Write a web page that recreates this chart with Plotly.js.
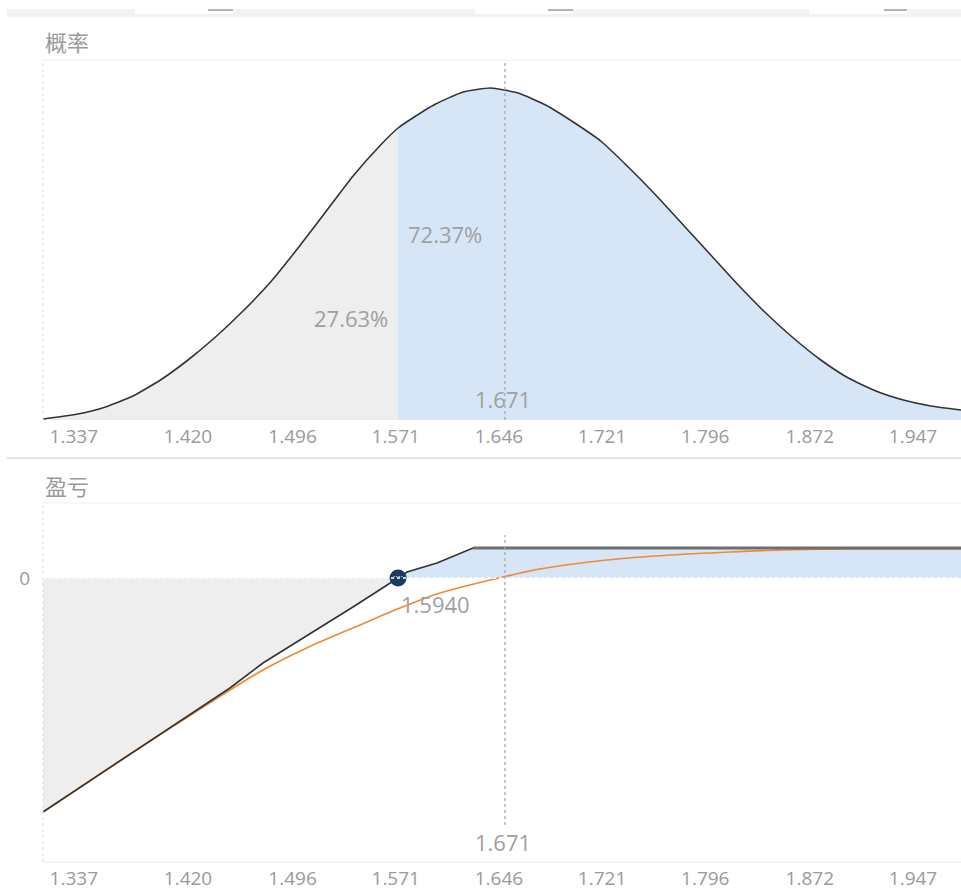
<!DOCTYPE html>
<html>
<head>
<meta charset="utf-8">
<script src="https://cdn.plot.ly/plotly-3.0.1.min.js"></script>
<style>
  html, body { margin: 0; padding: 0; background: #ffffff; }
  #chart { width: 961px; height: 895px; }
</style>
</head>
<body>
<div id="chart"></div>
<script>
// ---- data ----
const tickVals = [1.337, 1.420, 1.496, 1.571, 1.646, 1.721, 1.796, 1.872, 1.947];
const tickLabels = ["1.337", "1.420", "1.496", "1.571", "1.646", "1.721", "1.796", "1.872", "1.947"];
const xRange = [1.3146, 1.9819];

// probability density (top panel)
const densX = [1.3146, 1.34, 1.36, 1.38, 1.40, 1.42, 1.44, 1.46, 1.48, 1.50, 1.52, 1.54, 1.56, 1.5727,
               1.58, 1.60, 1.62, 1.64, 1.66, 1.68, 1.70, 1.72, 1.74, 1.76, 1.78, 1.80, 1.82, 1.84,
               1.86, 1.88, 1.90, 1.92, 1.94, 1.96, 1.9819];
const densY = [0.01, 0.06, 0.13, 0.24, 0.40, 0.60, 0.83, 1.09, 1.38, 1.72, 2.08, 2.44, 2.75, 2.92,
               2.99, 3.16, 3.28, 3.32, 3.27, 3.15, 2.98, 2.79, 2.53, 2.25, 1.95, 1.65, 1.35, 1.07,
               0.82, 0.60, 0.42, 0.29, 0.20, 0.14, 0.10];

// profit / loss at expiry (bottom panel, black)
const pnlX = [1.3146, 1.3778, 1.4505, 1.4745, 1.5109, 1.5399, 1.5727, 1.5792, 1.6010, 1.6272, 1.9819];
const pnlY = [-2.34, -1.76, -1.10, -0.85, -0.54, -0.29, 0, 0.06, 0.15, 0.30, 0.30];

// theoretical profit / loss now (bottom panel, orange)
const theoX = [1.3146, 1.3778, 1.4300, 1.4745, 1.5109, 1.5450, 1.5741, 1.6032, 1.6490, 1.6759,
               1.7246, 1.7704, 1.8140, 1.8525, 1.9012, 1.9819];
const theoY = [-2.34, -1.76, -1.30, -0.92, -0.67, -0.47, -0.30, -0.15, 0.01, 0.09,
               0.18, 0.23, 0.26, 0.28, 0.29, 0.29];

const breakEvenPos = 1.5727;       // where the break-even point sits on the axis
const breakEvenLabel = "1.5940";
const meanPos = 1.6504;            // where the dotted mean line sits on the axis
const meanLabel = "1.671";
const probBelow = "27.63%";
const probAbove = "72.37%";
const title1 = "概率";
const title2 = "盈亏";

// ---- build traces ----
const GRAY = "#eeeeee", BLUE = "#d6e6f7";
const iD = densX.indexOf(breakEvenPos);
const iP = pnlX.indexOf(breakEvenPos);
const maxP = Math.max(...pnlY);
const iCap = pnlY.indexOf(maxP);

const traces = [
  {x: densX.slice(0, iD + 1), y: densY.slice(0, iD + 1), xaxis: "x", yaxis: "y", mode: "lines",
   fill: "tozeroy", fillcolor: GRAY, line: {width: 0, shape: "spline", smoothing: 0.5}, hoverinfo: "skip"},
  {x: densX.slice(iD), y: densY.slice(iD), xaxis: "x", yaxis: "y", mode: "lines",
   fill: "tozeroy", fillcolor: BLUE, line: {width: 0, shape: "spline", smoothing: 0.5}, hoverinfo: "skip"},
  {x: densX, y: densY, xaxis: "x", yaxis: "y", mode: "lines",
   line: {color: "#333333", width: 1.6, shape: "spline", smoothing: 0.5}},

  {x: pnlX.slice(0, iP + 1), y: pnlY.slice(0, iP + 1), xaxis: "x2", yaxis: "y2", mode: "lines",
   fill: "tozeroy", fillcolor: GRAY, line: {width: 0}, hoverinfo: "skip"},
  {x: pnlX.slice(iP), y: pnlY.slice(iP), xaxis: "x2", yaxis: "y2", mode: "lines",
   fill: "tozeroy", fillcolor: BLUE, line: {width: 0}, hoverinfo: "skip"},
  {x: theoX, y: theoY, xaxis: "x2", yaxis: "y2", mode: "lines",
   line: {color: "#f08a32", width: 1.6, shape: "spline", smoothing: 0.8}},
  {x: pnlX, y: pnlY, xaxis: "x2", yaxis: "y2", mode: "lines",
   line: {color: "#333333", width: 1.6}},
  {x: pnlX.slice(iCap), y: pnlY.slice(iCap), xaxis: "x2", yaxis: "y2", mode: "lines",
   line: {color: "#6f6f6f", width: 3}},
  {x: [breakEvenPos], y: [0], xaxis: "x2", yaxis: "y2", mode: "markers+text",
   text: ["····"], textposition: "middle center",
   textfont: {color: "#ffffff", size: 8, family: "DejaVu Sans"},
   marker: {size: 17, color: "#1b3a5e"}}
];

// ---- layout ----
const px2x = (p) => (p - 43) / 918;
const py2y = (p) => 1 - (p - 60) / 802;

const axisFont = {family: "Open Sans, Noto Sans, sans-serif", size: 19, color: "#9a9a9a"};
const annFont = {family: "Open Sans, Noto Sans, sans-serif", size: 22, color: "#a0a0a0"};
const titleFont = {family: "Noto Sans CJK SC, sans-serif", size: 22, color: "#9a9a9a"};

const xCommon = {range: xRange, tickvals: tickVals, ticktext: tickLabels, tickfont: axisFont,
  showgrid: false, zeroline: false, showline: false, ticks: "", fixedrange: true,
  ticklabelstandoff: 3};

const layout = {
  width: 961, height: 895,
  margin: {l: 43, r: 0, t: 60, b: 33},
  paper_bgcolor: "#ffffff", plot_bgcolor: "rgba(0,0,0,0)",
  showlegend: false, hovermode: false,
  xaxis: Object.assign({}, xCommon, {anchor: "y"}),
  xaxis2: Object.assign({}, xCommon, {anchor: "y2"}),
  yaxis: {domain: [(862 - 420) / 802, 1], range: [0, 3.6], showticklabels: false,
    showgrid: false, zeroline: false, showline: false, ticks: ""},
  yaxis2: {domain: [0, (862 - 503) / 802], range: [-2.84, 0.75], tickvals: [0], ticktext: ["0"],
    tickfont: axisFont, showgrid: false, zeroline: false, showline: false, ticks: "",
    ticklabelstandoff: 12},
  shapes: [
    // top toolbar strip
    {type: "rect", xref: "paper", yref: "paper", x0: px2x(7), x1: 1, y0: py2y(17), y1: py2y(9),
     fillcolor: "#f2f2f2", line: {width: 0}},
    {type: "rect", xref: "paper", yref: "paper", x0: px2x(135), x1: px2x(233), y0: py2y(14), y1: py2y(9),
     fillcolor: "#ffffff", line: {width: 0}},
    {type: "rect", xref: "paper", yref: "paper", x0: px2x(475), x1: px2x(573), y0: py2y(14), y1: py2y(9),
     fillcolor: "#ffffff", line: {width: 0}},
    {type: "rect", xref: "paper", yref: "paper", x0: px2x(809), x1: px2x(907), y0: py2y(14), y1: py2y(9),
     fillcolor: "#ffffff", line: {width: 0}},
    {type: "rect", xref: "paper", yref: "paper", x0: px2x(208), x1: px2x(233), y0: py2y(11), y1: py2y(9),
     fillcolor: "#b4b4b4", line: {width: 0}},
    {type: "rect", xref: "paper", yref: "paper", x0: px2x(548), x1: px2x(573), y0: py2y(11), y1: py2y(9),
     fillcolor: "#b4b4b4", line: {width: 0}},
    {type: "rect", xref: "paper", yref: "paper", x0: px2x(884), x1: px2x(907), y0: py2y(11), y1: py2y(9),
     fillcolor: "#b4b4b4", line: {width: 0}},
    // separator between panels
    {type: "line", xref: "paper", yref: "paper", x0: px2x(7), x1: 1, y0: py2y(458), y1: py2y(458),
     line: {color: "#e2e2e2", width: 2}},
    // faint panel borders
    {type: "line", xref: "paper", yref: "paper", x0: 0, x1: 1, y0: 1, y1: 1,
     line: {color: "#f0f0f0", width: 1}},
    {type: "line", xref: "paper", yref: "paper", x0: 0, x1: 1, y0: py2y(503), y1: py2y(503),
     line: {color: "#f0f0f0", width: 1}},
    {type: "line", xref: "paper", yref: "paper", x0: 0, x1: 1, y0: 0, y1: 0,
     line: {color: "#f0f0f0", width: 1.5}},
    {type: "line", xref: "paper", yref: "paper", x0: 0, x1: 0, y0: py2y(420), y1: 1,
     line: {color: "#dddddd", width: 1, dash: "dot"}},
    {type: "line", xref: "paper", yref: "paper", x0: 0, x1: 0, y0: 0, y1: py2y(503),
     line: {color: "#dddddd", width: 1, dash: "dot"}},
    // zero line in bottom panel
    {type: "line", xref: "paper", yref: "y2", x0: 0, x1: 1, y0: 0, y1: 0,
     line: {color: "#ffffff", width: 1.5, dash: "dot"}},
    // mean dotted lines
    {type: "line", xref: "x", yref: "y", x0: meanPos, x1: meanPos, y0: 0, y1: 3.58,
     line: {color: "#a8a8a8", width: 1.3, dash: "dot"}},
    {type: "line", xref: "x2", yref: "y2", x0: meanPos, x1: meanPos, y0: -2.47, y1: 0.43,
     line: {color: "#a8a8a8", width: 1.3, dash: "dot"}}
  ],
  annotations: [
    {xref: "paper", yref: "paper", x: 0, y: py2y(41), xanchor: "left", yanchor: "middle",
     text: title1, showarrow: false, font: titleFont},
    {xref: "paper", yref: "paper", x: 0, y: py2y(485), xanchor: "left", yanchor: "middle",
     text: title2, showarrow: false, font: titleFont},
    {xref: "x", yref: "y", x: breakEvenPos, y: 1.86, xanchor: "left", yanchor: "middle", xshift: 8,
     text: probAbove, showarrow: false, font: annFont},
    {xref: "x", yref: "y", x: breakEvenPos, y: 1.02, xanchor: "right", yanchor: "middle", xshift: -8,
     text: probBelow, showarrow: false, font: annFont},
    {xref: "x", yref: "y", x: meanPos, y: 0.21, xanchor: "center", yanchor: "middle", xshift: -2,
     text: meanLabel, showarrow: false, font: annFont},
    {xref: "x2", yref: "y2", x: breakEvenPos, y: -0.26, xanchor: "left", yanchor: "middle", xshift: 1,
     text: breakEvenLabel, showarrow: false, font: annFont},
    {xref: "x2", yref: "y2", x: meanPos, y: -2.64, xanchor: "center", yanchor: "middle", xshift: -2,
     text: meanLabel, showarrow: false, font: annFont}
  ]
};

Plotly.newPlot("chart", traces, layout, {staticPlot: true, displayModeBar: false});
</script>
</body>
</html>
